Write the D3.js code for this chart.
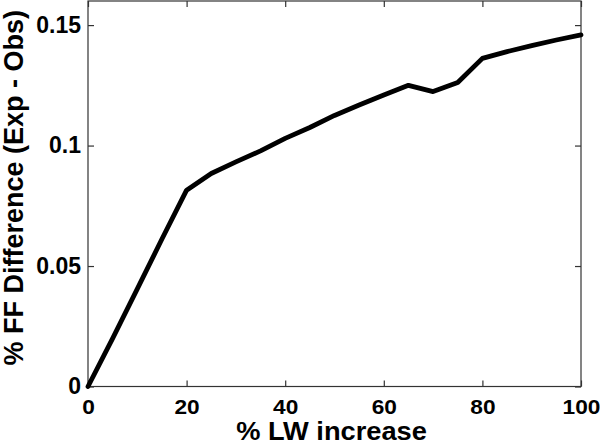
<!DOCTYPE html>
<html>
<head>
<meta charset="utf-8">
<script src="https://cdn.jsdelivr.net/npm/d3@7"></script>
<style>
  body { margin: 0; background: #fff; }
  svg { display: block; }
  text { font-family: "Liberation Sans", Arial, sans-serif; font-weight: bold; fill: #000; }
</style>
</head>
<body>
<div id="chart"></div>
<script>
const lwIncrease = [0, 5, 10, 15, 20, 25, 30, 35, 40, 45, 50, 55, 60, 65, 70, 75, 80, 85, 90, 95, 100];
const ffDiff = [0, 0.0200, 0.0405, 0.0612, 0.0815, 0.0884, 0.0932, 0.0978, 0.1030, 0.1075, 0.1125, 0.1168, 0.1210, 0.1250, 0.1224, 0.1262, 0.1362, 0.1390, 0.1415, 0.1438, 0.1459];
const xTicks = [0, 20, 40, 60, 80, 100];
const yTicks = [0, 0.05, 0.1, 0.15];

const w = 600;
const h = 445;
const margin = { top: 1, left: 88, right: 19, bottom: 58.5 };

const svg = d3.select('#chart').append('svg').attr('width', w).attr('height', h);

const x = d3.scaleLinear().domain([0, 100]).range([margin.left, w - margin.right]);
const y = d3.scaleLinear().domain([0, 0.16]).range([h - margin.bottom, margin.top]);

const axisColor = '#333';

// box
svg.append('rect')
  .attr('x', x(0))
  .attr('y', y(0.16))
  .attr('width', x(100) - x(0))
  .attr('height', y(0) - y(0.16))
  .attr('fill', 'none')
  .attr('stroke', axisColor)
  .attr('stroke-width', 1.2);

// bottom / left axes with inward ticks
const xAxis = svg.append('g')
  .attr('transform', `translate(0,${y(0)})`)
  .call(d3.axisBottom(x).tickValues(xTicks).tickSizeInner(-6).tickSizeOuter(0).tickPadding(13).tickFormat(d3.format('d')));
const yAxis = svg.append('g')
  .attr('transform', `translate(${x(0)},0)`)
  .call(d3.axisLeft(y).tickValues(yTicks).tickSizeInner(-6).tickSizeOuter(0).tickPadding(7).tickFormat(d => d === 0 ? '0' : String(d)));

// mirrored ticks on top / right
svg.append('g')
  .attr('transform', `translate(0,${y(0.16)})`)
  .call(d3.axisTop(x).tickValues(xTicks).tickSizeInner(-6).tickSizeOuter(0).tickFormat(''));
svg.append('g')
  .attr('transform', `translate(${x(100)},0)`)
  .call(d3.axisRight(y).tickValues(yTicks).tickSizeInner(-6).tickSizeOuter(0).tickFormat(''));

svg.selectAll('.domain').remove();
svg.selectAll('.tick line').attr('stroke', axisColor).attr('stroke-width', 1.2);

// the original picture is a bit stretched sideways, so widen the labels
xAxis.selectAll('text')
  .attr('font-size', 21).attr('fill', '#000').attr('font-family', null)
  .attr('transform', 'scale(1.08,1)');
yAxis.selectAll('text').attr('font-size', 23).attr('fill', '#000').attr('font-family', null);

// the curve
const line = d3.line()
  .x((d, i) => x(lwIncrease[i]))
  .y(d => y(d));

svg.append('path')
  .datum(ffDiff)
  .attr('d', line)
  .attr('fill', 'none')
  .attr('stroke', '#000')
  .attr('stroke-width', 4.8)
  .attr('stroke-linejoin', 'round')
  .attr('stroke-linecap', 'round');

// axis labels
svg.append('text')
  .attr('transform', `translate(${(x(0) + x(100)) / 2 - 3},440) scale(1.09,1)`)
  .attr('text-anchor', 'middle')
  .attr('font-size', 25)
  .text('% LW increase');

svg.append('text')
  .attr('transform', `translate(23,${(y(0) + y(0.16)) / 2 - 6}) rotate(-90)`)
  .attr('text-anchor', 'middle')
  .attr('font-size', 27)
  .text('% FF Difference (Exp - Obs)');
</script>
</body>
</html>
